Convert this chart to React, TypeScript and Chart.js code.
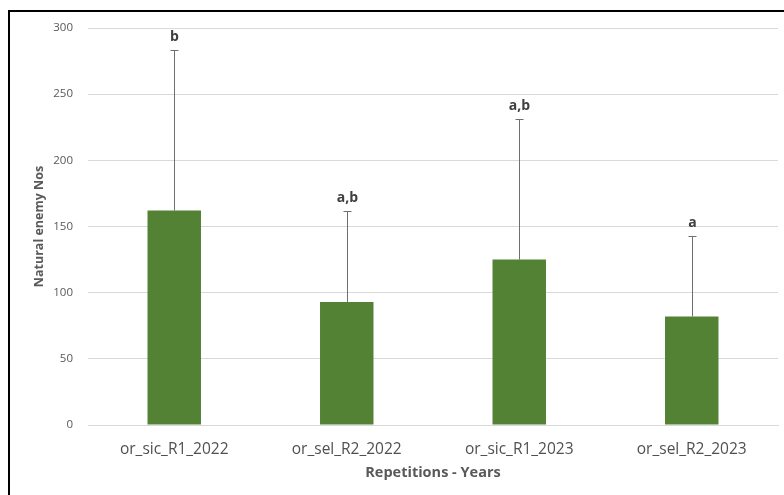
import React, { useEffect, useRef } from "react";
import { Chart, registerables } from "chart.js";

Chart.register(...registerables);

const categories = ["or_sic_R1_2022", "or_sel_R2_2022", "or_sic_R1_2023", "or_sel_R2_2023"];
const means = [162, 93, 125, 82];
const errorTops = [283, 162, 231, 143];
const letters = ["b", "a,b", "a,b", "a"];
const yTicks = [0, 50, 100, 150, 200, 250, 300];

const FONT = "'Open Sans', 'Liberation Sans', sans-serif";

const errorBarPlugin = {
  id: "errorBars",
  afterDatasetsDraw(chart: any) {
    const ctx = chart.ctx;
    const meta = chart.getDatasetMeta(0);
    const y = chart.scales.y;
    ctx.save();
    meta.data.forEach((bar: any, i: number) => {
      const x = Math.round(bar.x) + 0.5;
      const yTop = Math.round(y.getPixelForValue(errorTops[i])) + 0.5;
      const yBase = y.getPixelForValue(means[i]);
      ctx.strokeStyle = "#6f6f6f";
      ctx.lineWidth = 1;
      ctx.beginPath();
      ctx.moveTo(x, yBase);
      ctx.lineTo(x, yTop);
      ctx.moveTo(x - 4, yTop);
      ctx.lineTo(x + 4, yTop);
      ctx.stroke();
      ctx.fillStyle = "#404040";
      ctx.font = `bold 14px ${FONT}`;
      ctx.textAlign = "center";
      ctx.textBaseline = "bottom";
      ctx.fillText(letters[i], x, yTop - 6);
    });
    ctx.restore();
  },
};

export default function App() {
  const ref = useRef<HTMLCanvasElement>(null);
  useEffect(() => {
    if (!ref.current) return;
    const chart = new Chart(ref.current, {
      type: "bar",
      data: {
        labels: categories,
        datasets: [
          {
            data: means,
            backgroundColor: "#548235",
            borderWidth: 0,
            categoryPercentage: 1,
            barPercentage: 0.31,
          },
        ],
      },
      options: {
        animation: false,
        responsive: false,
        maintainAspectRatio: false,
        layout: { padding: { left: 10, top: 28, right: 6, bottom: 10 } },
        plugins: { legend: { display: false }, tooltip: { enabled: false } },
        scales: {
          x: {
            grid: { display: false, drawTicks: false },
            border: { display: true, color: "#d9d9d9" },
            ticks: { color: "#505050", font: { family: FONT, size: 15.5 }, padding: 15, maxRotation: 0 },
            title: {
              display: true,
              text: "Repetitions - Years",
              color: "#595959",
              font: { family: FONT, size: 14.5, weight: "bold" },
              padding: { top: 0, bottom: 3 },
            },
            afterFit: (s: any) => {
              s.height = 60;
            },
          },
          y: {
            min: 0,
            max: 300,
            afterBuildTicks: (s: any) => {
              s.ticks = yTicks.map((v) => ({ value: v }));
            },
            grid: { color: "#d9d9d9", drawTicks: false },
            border: { display: false },
            ticks: { color: "#595959", font: { family: FONT, size: 11.5 }, padding: 15 },
            title: {
              display: true,
              text: "Natural enemy Nos",
              color: "#595959",
              font: { family: FONT, size: 12.5, weight: "bold" },
              padding: { top: 22, bottom: 0 },
            },
            afterFit: (s: any) => {
              s.width = 78;
            },
          },
        },
      },
      plugins: [errorBarPlugin],
    });
    return () => chart.destroy();
  }, []);
  return (
    <div style={{ position: "fixed", left: 0, top: 0, width: 784, height: 495, background: "#fff" }}>
      <canvas ref={ref} width={784} height={495} style={{ position: "absolute", left: 0, top: 0 }} />
      <div
        style={{
          position: "absolute",
          left: 8,
          top: 10,
          width: 800,
          height: 500,
          borderLeft: "2px solid #000",
          borderTop: "2px solid #000",
          pointerEvents: "none",
        }}
      />
    </div>
  );
}
